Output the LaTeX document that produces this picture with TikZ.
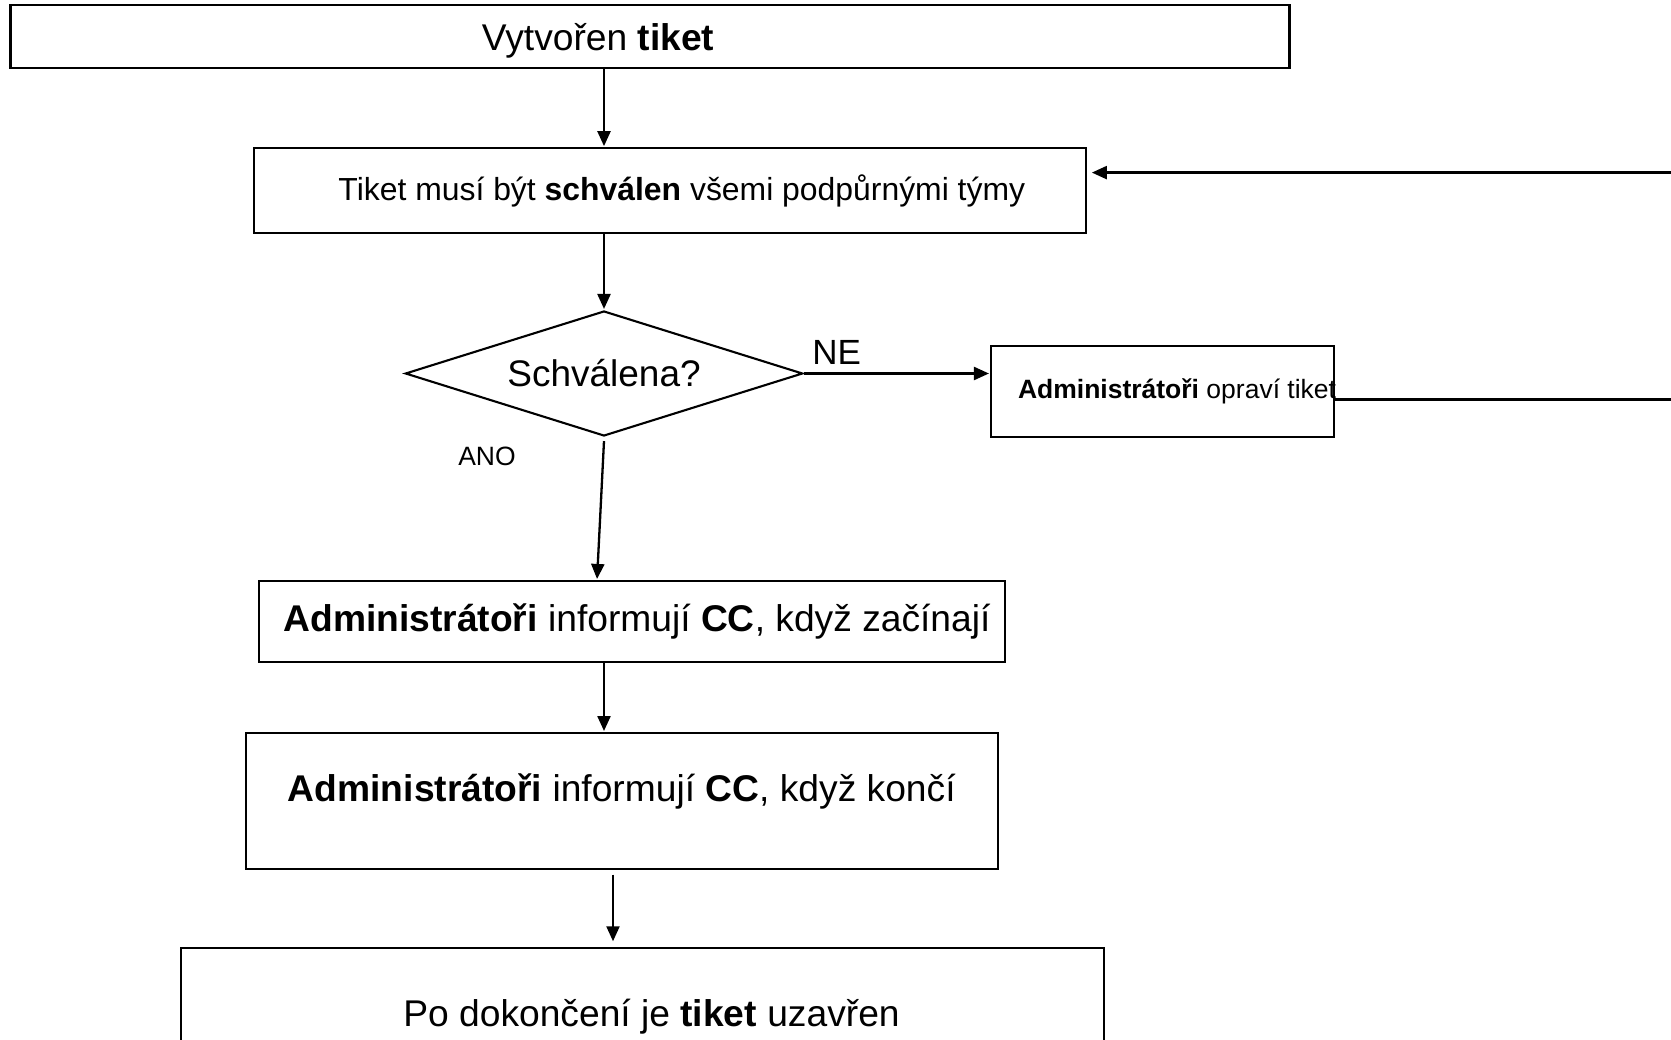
\documentclass[tikz,border=0pt]{standalone}
\usepackage{fontspec}
\setmainfont{Liberation Sans}
\usepackage{tikz}
\usetikzlibrary{positioning}
\usetikzlibrary{shapes.geometric}
\usetikzlibrary{arrows.meta}

\begin{document}
\begin{tikzpicture}[x=1pt, y=1pt, shorten >=1pt, node distance=100pt, on grid, auto,
      >={Triangle[length=15pt,width=13pt]}, line width=2.3pt,
      every node/.style={inner sep=0pt},
      box/.style={draw, rectangle, line width=2.1pt, font=\fontsize{37.2}{42}\selectfont},
      sbox/.style={draw, rectangle, line width=2.1pt, font=\fontsize{31.9}{36}\selectfont},
      fbox/.style={draw, rectangle, line width=2.1pt, inner xsep=27pt, font=\fontsize{26.5}{30}\selectfont},
      dia/.style={draw, diamond, line width=2.1pt, aspect=3.18, font=\fontsize{37}{42}\selectfont},
      el/.style={inner sep=2pt, font=\fontsize{26.5}{30}\selectfont},
      ne/.style={inner sep=2pt, font=\fontsize{35}{40}\selectfont}]

      \useasboundingbox (0,0) rectangle (1671,-1040);

      \node[box, minimum width=1279pt, minimum height=63pt, text depth=0pt] (tkt) at (650,-36.8) {Vytvořen \textbf{tiket}\hspace*{104pt}};
      \node[sbox, minimum width=832pt, minimum height=85pt] (appr) [below=of tkt, xshift=19.8pt, yshift=-53.9pt] {\hspace*{24pt}Tiket musí být \textbf{schválen} všemi podpůrnými týmy};

      \node[dia, minimum width=397.5pt, minimum height=125pt] (dec) [below=of appr, xshift=-65.8pt, yshift=-82.8pt] {Schválena?};
      \node[ne] (no) [right=of dec, xshift=132.6pt, yshift=20.8pt] {NE};
      \node[el] (yes) [below=of dec, xshift=-117pt, yshift=17.5pt] {ANO};

      \node[fbox, minimum width=343pt, minimum height=91pt] (fix) [right=of dec, xshift=458.5pt, yshift=-18pt] {\makebox[289pt][l]{\textbf{Administrátoři} opraví tiket}};
      \coordinate[right=of appr, xshift=920.2pt, yshift=18.1pt] (back);

      \node[box, minimum width=746pt, minimum height=81pt] (start) [below=of dec, xshift=28pt, yshift=-148pt] {\hspace*{10pt}\textbf{Administrátoři} informují \textbf{CC}, když začínají};
      \node[box, minimum width=751.5pt, minimum height=135.5pt, text depth=27pt] (finish) [below=of start, xshift=-10.2pt, yshift=-79.3pt] {\textbf{Administrátoři} informují \textbf{CC}, když končí};
      \node[box, minimum width=923pt, minimum height=137pt] (close) [below=of finish, xshift=20.7pt, yshift=-116pt] {\hspace*{18pt}Po dokončení je \textbf{tiket} uzavřen};

      \path[->]
        (tkt.south -| dec.north) edge [] (appr.north -| dec.north)
        (appr.south -| dec.north) edge [] (dec.north)
        (dec.east) edge [] (dec.east -| fix.west)
        ([yshift=-4pt]dec.south) edge [] ([xshift=-35pt]start.north)
        (start.south -| dec.south) edge [] (finish.north -| dec.south)
        ([xshift=-8.8pt, yshift=-5pt]finish.south) edge [] ([xshift=-29.5pt, yshift=5pt]close.north)
        ;

      \draw[->, shorten >=5pt] ([yshift=-8pt]fix.east) -| (back) -- (appr.east |- back);

\end{tikzpicture}
\end{document}
